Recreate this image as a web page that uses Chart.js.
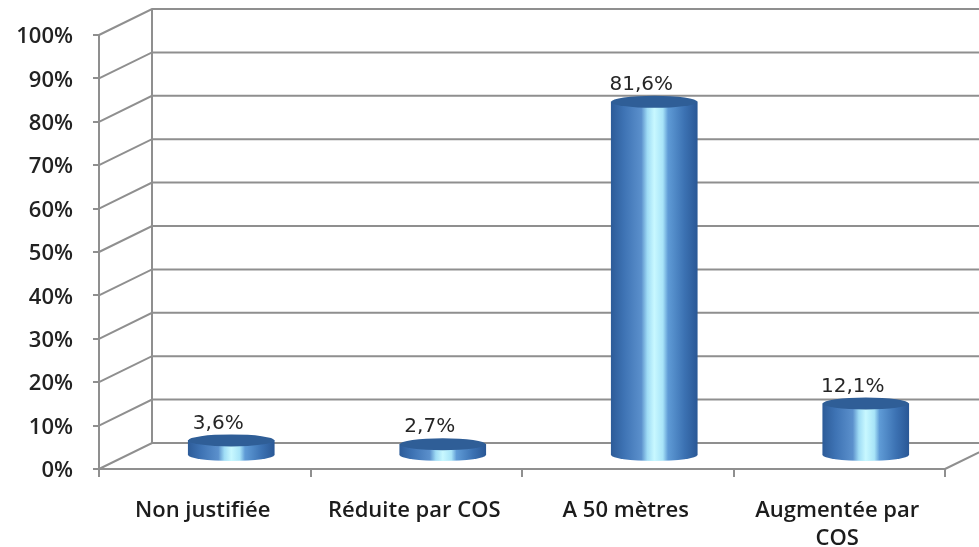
<!DOCTYPE html>
<html><head><meta charset="utf-8">
<script src="https://cdn.jsdelivr.net/npm/chart.js@4/dist/chart.umd.min.js"></script>
<style>html,body{margin:0;padding:0;background:#fff}canvas{display:block}</style>
</head><body><canvas id="c" width="979" height="547"></canvas>
<script>
const categories = ["Non justifiée","Réduite par COS","A 50 mètres",["Augmentée par","COS"]];
const values = [3.6,2.7,81.6,12.1];
const valueLabels = ["3,6%","2,7%","81,6%","12,1%"];
const gridColor = "#8f8f8f";
const depthX = 53, depthY = 26, barW = 86, ry = 6;

function cylGrad(ctx, cx){
  const g = ctx.createLinearGradient(cx-barW/2,0,cx+barW/2,0);
  g.addColorStop(0,"#2d5c99");
  g.addColorStop(.15,"#3e73b4");
  g.addColorStop(.35,"#5b90cc");
  g.addColorStop(.42,"#9fdcf5");
  g.addColorStop(.5,"#c8f8ff");
  g.addColorStop(.6,"#a8e4f8");
  g.addColorStop(.66,"#5f9bd6");
  g.addColorStop(.85,"#3c72b3");
  g.addColorStop(1,"#2a5896");
  return g;
}
const walls = {
  id:"walls",
  beforeDatasetsDraw(ch){
    const {ctx,scales:{x,y},chartArea:a} = ch;
    ctx.save();
    ctx.strokeStyle = gridColor; ctx.lineWidth = 2;
    y.ticks.forEach(t=>{
      const py = y.getPixelForValue(t.value);
      ctx.beginPath();
      ctx.moveTo(a.left,py);
      ctx.lineTo(a.left+depthX,py-depthY);
      ctx.lineTo(a.right+depthX,py-depthY);
      ctx.stroke();
    });
    ctx.beginPath();
    ctx.moveTo(a.left+depthX,a.top-depthY);
    ctx.lineTo(a.left+depthX,a.bottom-depthY);
    ctx.moveTo(a.right,a.bottom);
    ctx.lineTo(a.right+depthX,a.bottom-depthY);
    ctx.stroke();
    ctx.restore();
  }
};
const cyl = {
  id:"cyl",
  beforeDatasetDraw(ch,args){
    const {ctx} = ch;
    ctx.save();
    ctx.translate(depthX/2,-depthY/2);
    ch.getDatasetMeta(args.index).data.forEach(b=>{
      ctx.fillStyle = cylGrad(ctx,b.x);
      ctx.beginPath();
      ctx.ellipse(b.x,b.base,barW/2,ry,0,0,Math.PI*2);
      ctx.fill();
    });
  },
  afterDatasetDraw(ch,args){
    const {ctx} = ch;
    ch.getDatasetMeta(args.index).data.forEach((b,i)=>{
      ctx.fillStyle = "#2f5e97";
      ctx.beginPath();
      ctx.ellipse(b.x,b.y,barW/2,ry,0,0,Math.PI*2);
      ctx.fill();
    });
    ctx.restore();
    ctx.save();
    ctx.fillStyle = "#262626";
    ctx.font = "20px 'DejaVu Sans'";
    ctx.textAlign = "center"; ctx.textBaseline = "middle";
    ch.getDatasetMeta(args.index).data.forEach((b,i)=>{
      ctx.fillText(valueLabels[i], b.x+depthX/2-13, b.y-depthY/2-17);
    });
    ctx.restore();
  }
};
new Chart(document.getElementById("c"),{
  type:"bar",
  data:{labels:categories,datasets:[{
    data:values,
    barThickness:barW,
    borderWidth:0,
    clip:false,
    backgroundColor(c){
      const s = c.chart.scales.x;
      const px = (s && c.dataIndex!==undefined) ? s.getPixelForValue(c.dataIndex) : NaN;
      if(!Number.isFinite(px)) return "#3a6fb0";
      return cylGrad(c.chart.ctx, px);
    }
  }]},
  plugins:[walls,cyl],
  options:{
    responsive:false,animation:false,
    layout:{padding:{top:35,right:34,left:0,bottom:0}},
    plugins:{legend:{display:false},tooltip:{enabled:false}},
    scales:{
      x:{
        afterFit(s){s.height=78;},
        grid:{drawOnChartArea:false,color:gridColor,lineWidth:2,tickLength:8,offset:true},
        border:{color:gridColor,width:2},
        ticks:{color:"#1c1c1c",font:{family:"'Open Sans'",size:22,weight:"600",lineHeight:1.3},padding:19,labelOffset:-2,maxRotation:0,autoSkip:false}
      },
      y:{
        min:0,max:100,
        afterFit(s){s.width=99;},
        grid:{drawOnChartArea:false,color:gridColor,lineWidth:2,tickLength:6},
        border:{color:gridColor,width:2},
        ticks:{stepSize:10,color:"#222222",padding:20,labelOffset:2,font:{family:"'Open Sans'",size:22,weight:"600"},callback:v=>v+"%"}
      }
    }
  }
});
</script></body></html>
